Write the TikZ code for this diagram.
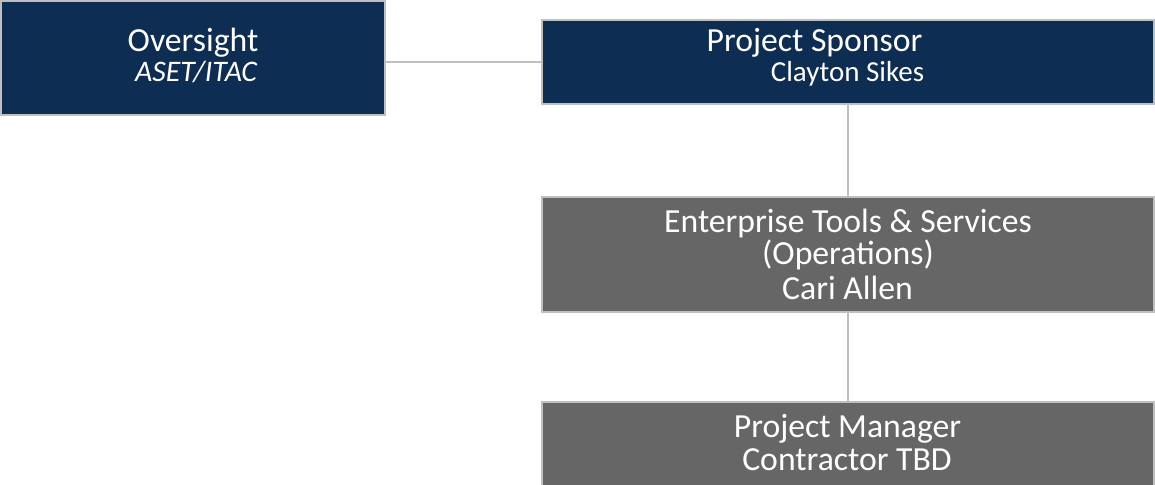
\documentclass[tikz,border=0pt]{standalone}
\usepackage{fontspec}
\setmainfont{Carlito}
\definecolor{navy}{HTML}{0E2D52}
\definecolor{boxgray}{HTML}{666666}
\definecolor{edgegray}{HTML}{BFBFBF}
\begin{document}
\begin{tikzpicture}[x=1pt,y=-1pt,
  navybox/.style={draw=edgegray, line width=2pt, fill=navy, inner sep=0pt, outer sep=0pt},
  graybox/.style={draw=edgegray, line width=2pt, fill=boxgray, inner sep=0pt, outer sep=0pt},
  link/.style={draw=edgegray, line width=1.6pt},
  lbl/.style={text=white, anchor=base, inner sep=0pt, font=\fontsize{33.7}{40}\selectfont},
  small/.style={text=white, anchor=base, inner sep=0pt, font=\fontsize{29}{34}\selectfont},
  sub/.style={text=white, anchor=base, inner sep=0pt, font=\fontsize{29.8}{34}\selectfont\itshape}]
\useasboundingbox (0,0) rectangle (1155,484);
\fill[white] (0,0) rectangle (1155,484);
\node[navybox, minimum width=384pt, minimum height=114pt] (over) at (193,58) {};
\node[navybox, minimum width=612pt, minimum height=84pt] (spon) at (848,62) {};
\node[graybox, minimum width=612pt, minimum height=115pt] (ent) at (848,254.5) {};
\node[graybox, minimum width=612pt, minimum height=98pt] (pm) at (848,451) {};
\draw[link] (spon.west) -- (spon.west -| over.east);
\draw[link] (spon.south) -- (ent.north);
\draw[link] (ent.south) -- (pm.north);
\node[lbl] (t1) at (193,52) {Oversight};
\node[sub] (t2) at (196,82) {ASET/ITAC};
\node[lbl] (t3) at (814.5,52) {Project Sponsor};
\node[small] (t4) at (847.5,82) {Clayton Sikes};
\node[lbl] (t5) at (848,232) {Enterprise Tools \& Services};
\node[lbl] (t6) at (848,264) {(Operations)};
\node[lbl] (t7) at (847.5,299) {Cari Allen};
\node[lbl] (t8) at (847.5,437) {Project Manager};
\node[lbl] (t9) at (847,470) {Contractor TBD};
\end{tikzpicture}
\end{document}
